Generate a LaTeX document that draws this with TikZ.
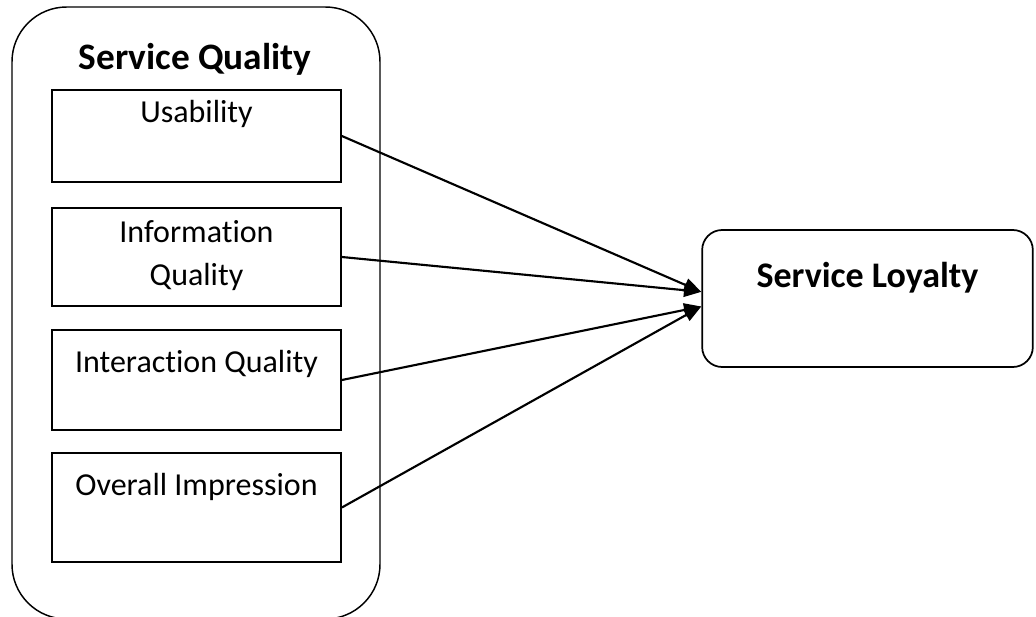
\documentclass[tikz,border=0pt]{standalone}
\usepackage{fontspec}
\setmainfont{Carlito}[Ligatures=NoCommon]
\usepackage{tikz}
\usetikzlibrary{arrows.meta}
\tikzstyle{group} = [rectangle, rounded corners=41pt, minimum width=276pt, minimum height=459pt, draw=black, line width=1.1pt]
\tikzstyle{dimension} = [rectangle, minimum width=216.75pt, draw=black, line width=1.3pt]
\tikzstyle{outcome} = [rectangle, rounded corners=15pt, minimum width=248pt, minimum height=102.75pt, draw=black, line width=1.3pt]
\tikzstyle{inlabel} = [anchor=north, inner sep=0pt, align=center, font=\fontsize{24}{32}\selectfont]
\tikzstyle{arrow} = [line width=1.6pt, -{Triangle[length=13pt,width=10pt]}]

\begin{document}
\begin{tikzpicture}[x=0.75pt, y=-0.75pt]
	\useasboundingbox (0,0) rectangle (1036,617);
	\node(sq) [group] at (196,313) {};
	\node(sqtitle) [anchor=base, font=\fontsize{28}{32}\selectfont\bfseries] at (195,70) {Service Quality};
	%----------------------------------------------------%
	\node(usab) [dimension, minimum height=69pt, label={[inlabel, yshift=-8.5pt]north:Usability}] at (196.5,136) {};
	\node(info) [dimension, minimum height=73.5pt, label={[inlabel, yshift=-10pt]north:Information\\Quality}] at (196.5,257) {};
	\node(inter) [dimension, minimum height=75pt, label={[inlabel, yshift=-16pt]north:Interaction Quality}] at (196.5,380) {};
	\node(overall) [dimension, minimum height=81.75pt, label={[inlabel, yshift=-15.5pt]north:Overall Impression}] at (196.5,507.5) {};
	%----------------------------------------------------%
	\node(loyal) [outcome, label={[inlabel, yshift=-25pt, font=\fontsize{27}{32}\selectfont\bfseries]north:Service Loyalty}] at (867.5,298.5) {};
	\coordinate(inup) at ([yshift=5pt]loyal.west);
	\coordinate(indown) at ([yshift=-6pt]loyal.west);
	%----------------------------------------------------%
	\draw[arrow] (usab.east) -- (inup);
	\draw[arrow] (info.east) -- (inup);
	\draw[arrow] (inter.east) -- (indown);
	\draw[arrow] (overall.east) -- (indown);
\end{tikzpicture}
\end{document}
